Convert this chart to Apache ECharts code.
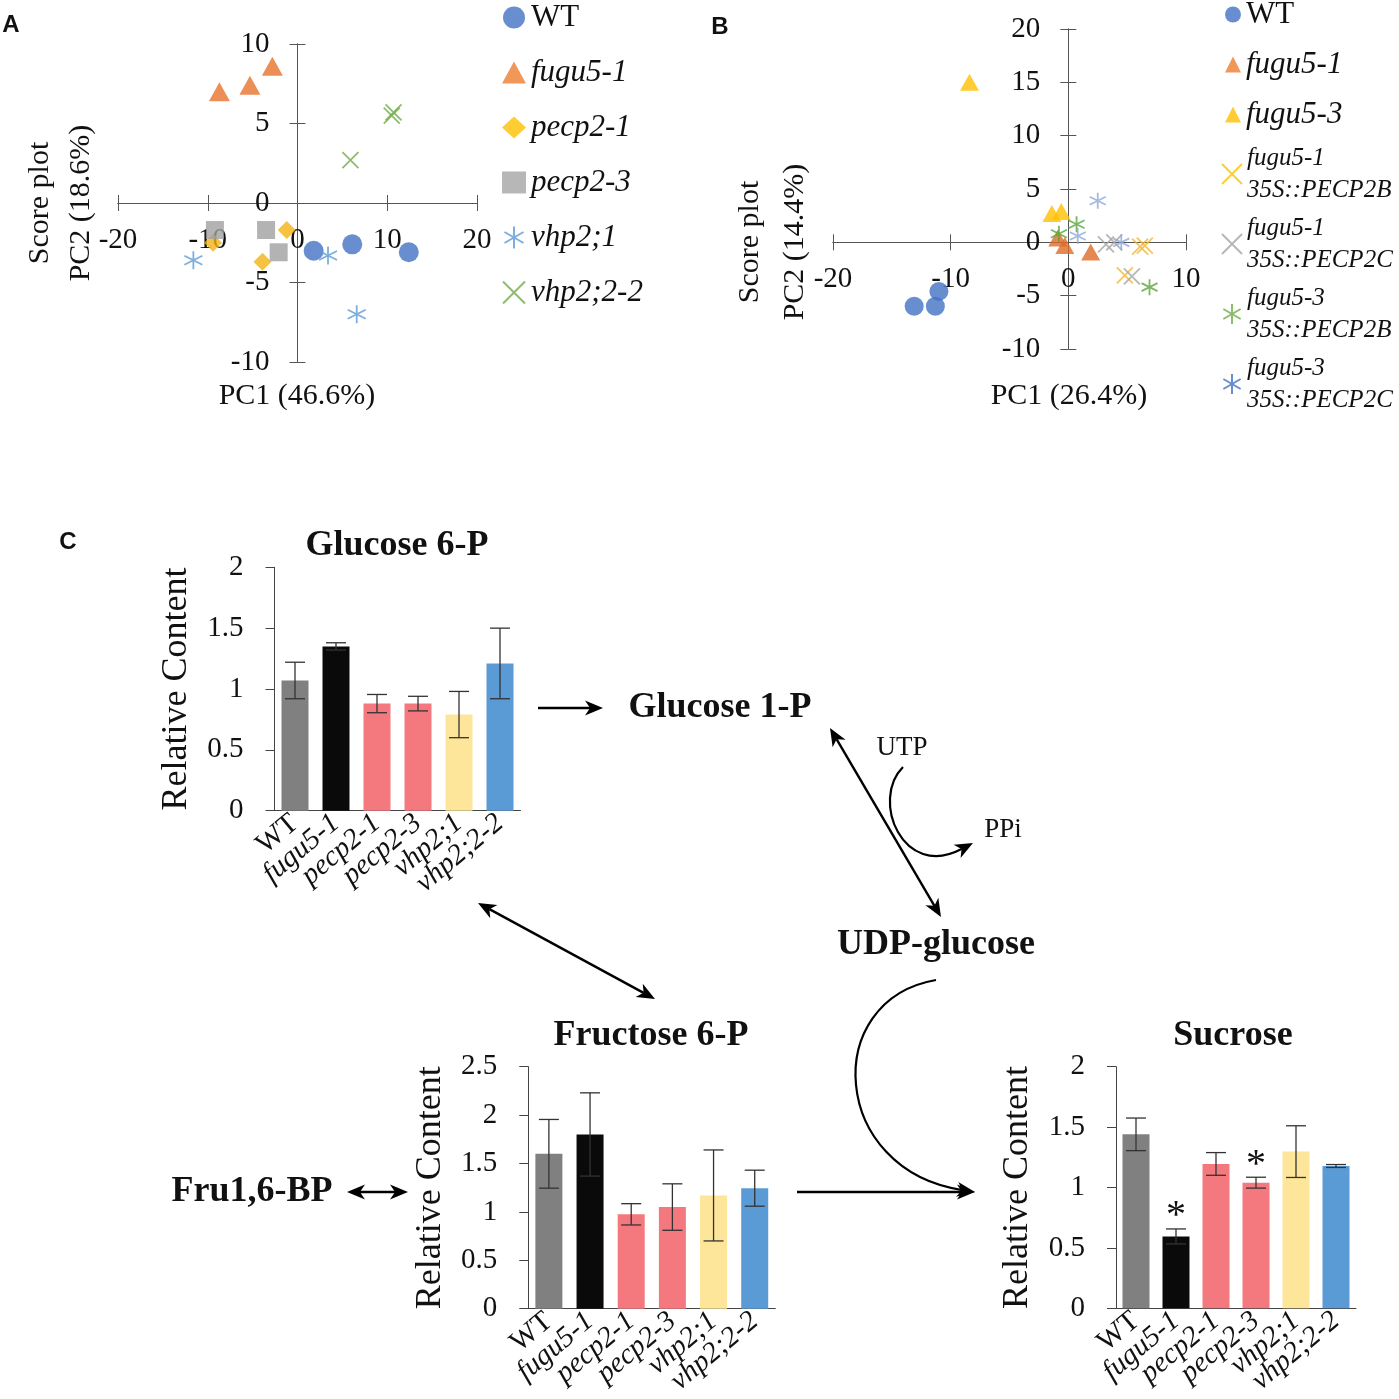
<!DOCTYPE html>
<html><head><meta charset="utf-8">
<script src="https://cdn.jsdelivr.net/npm/echarts@6/dist/echarts.min.js"></script>
<style>html,body{margin:0;padding:0;background:#fff}#c{width:1399px;height:1399px}</style>
</head><body><div id="c"></div>
<script>
// ---------- Panel A: PCA score plot ----------
const aWT     = [[1.8,-3.0],[6.1,-2.6],[12.4,-3.1]];
const aFugu51 = [[-8.7,7.0],[-5.3,7.4],[-2.8,8.6]];
const aPecp21 = [[-9.4,-2.5],[-1.2,-1.7],[-3.9,-3.7]];
const aPecp23 = [[-9.2,-1.7],[-3.5,-1.7],[-2.1,-3.1]];
const aVhp21  = [[-11.6,-3.6],[3.4,-3.3],[6.6,-7.0]];
const aVhp222 = [[10.5,5.5],[10.7,5.7],[5.9,2.7]];
// ---------- Panel B: PCA score plot ----------
const bWT     = [[-13.1,-6.0],[-11.3,-6.0],[-11.0,-4.6]];
const bFugu51 = [[-0.9,0.4],[-0.3,-0.3],[1.9,-0.9]];
const bFugu53 = [[-8.4,15.0],[-1.4,2.7],[-0.6,2.9]];
const bF1B    = [[6.1,-0.4],[6.5,-0.3],[4.8,-3.1]];
const bF1C    = [[3.2,-0.2],[3.9,0.0],[5.4,-3.2]];
const bF3B    = [[-0.8,0.8],[0.7,1.7],[6.9,-4.2]];
const bF3C    = [[2.5,3.9],[0.8,0.6],[4.5,0.0]];
// ---------- Panel C: bar charts ----------
const cats     = ['WT','fugu5-1','pecp2-1','pecp2-3','vhp2;1','vhp2;2-2'];
const g6pMean  = [1.07,1.35,0.88,0.88,0.79,1.21];
const g6pErr   = [0.15,0.03,0.075,0.06,0.19,0.29];
const f6pMean  = [1.60,1.80,0.975,1.05,1.17,1.245];
const f6pErr   = [0.355,0.43,0.11,0.24,0.47,0.186];
const sucMean  = [1.44,0.595,1.195,1.04,1.297,1.178];
const sucErr   = [0.135,0.062,0.094,0.045,0.214,0.012];
const sucSig   = ['','*','','*','',''];
const barColors = ['#808080','#0a0a0a','#f4797f','#f4797f','#fde699','#5b9bd5'];

const SERIF = '"Liberation Serif", "Times New Roman", serif';
const symX = 'path://M0,0L10,10M10,0L0,10';
const symAst = 'path://M5,0L5,10M0.67,2.5L9.33,7.5M0.67,7.5L9.33,2.5';
const AX = '#555';

const GRIDS = [
  {left:118, top:44, width:359, height:318, outerBoundsMode:'none'},
  {left:833, top:29, width:353, height:320, outerBoundsMode:'none'},
  {left:274.5, top:567.3, width:246, height:243.4, outerBoundsMode:'none'},
  {left:528.3, top:1066.7, width:247, height:242, outerBoundsMode:'none'},
  {left:1116, top:1066.7, width:240, height:241.6, outerBoundsMode:'none'}
];

function sc(name, data, ai, symbol, size, color, line) {
  return {type:'scatter', name, data, xAxisIndex:ai, yAxisIndex:ai, symbol, symbolSize:size, z:3,
    itemStyle: line ? {color:'transparent', borderColor:color, borderWidth:1.8} : {color:color}};
}
// axes crossing at the origin: the axis is shifted from the grid edge to the zero of the other axis
// (main axis carries the labels; a label-less twin on the opposite side gives ticks crossing both ways)
function valAxes(gi, min, max, interval, isX, oMin, oMax) {
  const g = GRIDS[gi];
  const span = isX ? g.height : g.width;
  const offNear = -(0 - oMin) / (oMax - oMin) * span;   // from bottom / left edge
  const offFar  = -(oMax - 0) / (oMax - oMin) * span;   // from top / right edge
  const base = {gridIndex:gi, type:'value', min, max, interval, splitLine:{show:false},
    axisLine:{onZero:false, lineStyle:{color:AX, width:1}},
    axisTick:{length:8, lineStyle:{color:AX}}};
  const main = Object.assign({}, base, {position: isX ? 'bottom' : 'left', offset: offNear,
    axisLabel:{margin: isX ? 23 : 28, fontSize:29, fontFamily:SERIF, color:'#111'}});
  const cross = Object.assign({}, base, {position: isX ? 'top' : 'right', offset: offFar,
    axisLabel:{show:false}});
  return [main, cross];
}
function catAxis(gi) {
  return {gridIndex:gi, type:'category', data:cats,
    axisLine:{lineStyle:{color:'#444', width:1}}, axisTick:{show:false},
    axisLabel:{interval:0, rotate:40, margin:9, fontSize:29, fontFamily:SERIF, color:'#111',
      formatter: v => v === 'WT' ? v : '{i|' + v + '}',
      rich:{i:{fontStyle:'italic', fontSize:29, fontFamily:SERIF, color:'#111'}}}};
}
function barYAxis(gi, max) {
  return {gridIndex:gi, type:'value', min:0, max, interval:0.5,
    axisLine:{show:true, lineStyle:{color:'#444', width:1}},
    axisTick:{show:true, length:9, lineStyle:{color:'#444'}},
    axisLabel:{margin:31, fontSize:29, fontFamily:SERIF, color:'#111'},
    splitLine:{show:false},
    name:'Relative Content', nameLocation:'middle', nameRotate:90, nameGap:80,
    nameTextStyle:{fontSize:36, fontFamily:SERIF, color:'#111'}};
}
function barSeries(ai, mean) {
  return {type:'bar', xAxisIndex:ai, yAxisIndex:ai, barWidth:27,
    data: mean.map((v,i)=>({value:v, itemStyle:{color:barColors[i]}}))};
}
function errSeries(ai, mean, err, sig) {
  return {type:'custom', xAxisIndex:ai, yAxisIndex:ai, z:5,
    encode:{x:0, y:[1,2]},
    data: mean.map((m,i)=>[i, m-err[i], m+err[i]]),
    renderItem(params, api) {
      const lo = api.coord([api.value(0), api.value(1)]);
      const hi = api.coord([api.value(0), api.value(2)]);
      const w = 10, st = {stroke:'#333', lineWidth:1.3};
      const ch = [
        {type:'line', shape:{x1:hi[0],y1:hi[1],x2:lo[0],y2:lo[1]}, style:st},
        {type:'line', shape:{x1:hi[0]-w,y1:hi[1],x2:hi[0]+w,y2:hi[1]}, style:st},
        {type:'line', shape:{x1:lo[0]-w,y1:lo[1],x2:lo[0]+w,y2:lo[1]}, style:st}];
      const s = sig ? sig[params.dataIndex] : '';
      if (s) ch.push({type:'text', x:hi[0], y:hi[1]-12,
        style:{text:s, align:'center', verticalAlign:'middle', font:'40px ' + SERIF, fill:'#111'}});
      return {type:'group', children:ch};
    }};
}

// ---------- diagram helpers ----------
const G = [];
function head(tx, ty, fx, fy) {
  const L = 18, W = 7.5;
  const a = Math.atan2(ty-fy, tx-fx), c = Math.cos(a), s = Math.sin(a);
  const bx = tx - L*c, by = ty - L*s, nx = tx - L*0.72*c, ny = ty - L*0.72*s;
  G.push({type:'polygon', shape:{points:[[tx,ty],[bx - W*s, by + W*c],[nx,ny],[bx + W*s, by - W*c]]}, style:{fill:'#000'}});
  return [nx, ny];
}
function arrow(x1, y1, x2, y2, both) {
  const e = head(x2, y2, x1, y1);
  const s = both ? head(x1, y1, x2, y2) : [x1, y1];
  G.push({type:'line', shape:{x1:s[0], y1:s[1], x2:e[0], y2:e[1]}, style:{stroke:'#000', lineWidth:2.4}});
}
function curve(p0, p1, p2, p3) {
  const e = head(p3[0], p3[1], p2[0], p2[1]);
  G.push({type:'bezierCurve', shape:{x1:p0[0], y1:p0[1], cpx1:p1[0], cpy1:p1[1], cpx2:p2[0], cpy2:p2[1], x2:e[0], y2:e[1]},
    style:{stroke:'#000', lineWidth:2.2, fill:null}});
}
function txt(t, x, y, font, rot, lh) {
  G.push({type:'text', x, y, rotation: rot || 0,
    style:{text:t, font, fill:'#111', align:'center', verticalAlign:'middle', lineHeight: lh || undefined}});
}
const BOLD = 'bold 36px ' + SERIF;
txt('A', 11, 25, 'bold 24px "Liberation Sans", Arial, sans-serif');
txt('B', 720, 27, 'bold 24px "Liberation Sans", Arial, sans-serif');
txt('C', 68, 542, 'bold 24px "Liberation Sans", Arial, sans-serif');
txt('PC1 (46.6%)', 297, 396, '30px ' + SERIF);
txt('Score plot\nPC2 (18.6%)', 61, 203, '30px ' + SERIF, Math.PI/2, 41);
txt('PC1 (26.4%)', 1069, 396, '30px ' + SERIF);
txt('Score plot\nPC2 (14.4%)', 773, 242, '30px ' + SERIF, Math.PI/2, 45);
txt('Glucose 6-P', 397, 546, BOLD);
txt('Fructose 6-P', 651, 1036, BOLD);
txt('Sucrose', 1233, 1036, BOLD);
txt('Glucose 1-P', 720, 708, BOLD);
txt('UDP-glucose', 936, 945, BOLD);
txt('Fru1,6-BP', 252, 1192, BOLD);
txt('UTP', 902, 748, '27px ' + SERIF);
txt('PPi', 1003, 830, '27px ' + SERIF);
arrow(538, 708, 603, 708, false);
arrow(830, 728, 941, 917, true);
curve([903,767], [870,800], [903,880], [973,843]);
arrow(478, 903, 655, 999, true);
curve([936,980], [820,1000], [830,1170], [975,1192]);
arrow(797, 1192, 975, 1192, false);
arrow(347, 1192, 408, 1192, true);

const legTxt = (fs, lh) => ({fontFamily:SERIF, fontSize:fs, lineHeight:lh, color:'#111',
  rich:{n:{fontFamily:SERIF, fontSize:fs, lineHeight:lh, color:'#111'},
        i:{fontFamily:SERIF, fontSize:fs, lineHeight:lh, fontStyle:'italic', color:'#111'}}});
const legFmt = name => name === 'WT' ? '{n|WT}' : name.split('\n').map(s => '{i|' + s + '}').join('\n');
const lineIcon = (sym, c) => ({icon:sym, itemStyle:{color:'transparent', borderColor:c, borderWidth:2}});

const xa = valAxes(0, -20, 20, 10, true, -10, 10), ya = valAxes(0, -10, 10, 5, false, -20, 20);
const xb = valAxes(1, -20, 10, 10, true, -10, 20), yb = valAxes(1, -10, 20, 5, false, -20, 10);

const option = {
  animation:false,
  backgroundColor:'#fff',
  grid: GRIDS,
  xAxis:[xa[0], xa[1], xb[0], xb[1], catAxis(2), catAxis(3), catAxis(4)],
  yAxis:[ya[0], ya[1], yb[0], yb[1], barYAxis(2, 2), barYAxis(3, 2.5), barYAxis(4, 2)],
  legend:[
    {left:497, top:-3, orient:'vertical', itemWidth:24, itemHeight:22, itemGap:24, selectedMode:false,
      textStyle:legTxt(31, 30), formatter:legFmt,
      data:[{name:'WT', icon:'circle', itemStyle:{color:'#4472c4'}},
            {name:'fugu5-1', icon:'triangle', itemStyle:{color:'#ed7d31'}},
            {name:'pecp2-1', icon:'diamond', itemStyle:{color:'#ffc000'}},
            {name:'pecp2-3', icon:'rect', itemStyle:{color:'#a5a5a5'}},
            Object.assign({name:'vhp2;1'}, lineIcon(symAst, '#5b9bd5')),
            Object.assign({name:'vhp2;2-2'}, lineIcon(symX, '#70ad47'))]},
    {left:1220, top:-6, orient:'vertical', itemWidth:16, itemHeight:16, itemGap:19, selectedMode:false,
      textStyle:legTxt(31, 30), formatter:legFmt,
      data:[{name:'WT', icon:'circle', itemStyle:{color:'#4472c4'}},
            {name:'fugu5-1', icon:'triangle', itemStyle:{color:'#ed7d31'}},
            {name:'fugu5-3', icon:'triangle', itemStyle:{color:'#ffc000'}}]},
    {left:1216, top:137, orient:'vertical', itemWidth:20, itemHeight:20, itemGap:6, selectedMode:false,
      textStyle:legTxt(25, 32), formatter:legFmt,
      data:[Object.assign({name:'fugu5-1\n35S::PECP2B'}, lineIcon(symX, '#ffc000')),
            Object.assign({name:'fugu5-1\n35S::PECP2C'}, lineIcon(symX, '#a5a5a5')),
            Object.assign({name:'fugu5-3\n35S::PECP2B'}, lineIcon(symAst, '#70ad47')),
            Object.assign({name:'fugu5-3\n35S::PECP2C'}, lineIcon(symAst, '#4472c4'))]}
  ],
  series:[
    sc('WT', aWT, 0, 'circle', 20, '#4472c4'),
    sc('fugu5-1', aFugu51, 0, 'triangle', [21,19], '#e8722c'),
    sc('pecp2-1', aPecp21, 0, 'diamond', 18, '#f2b411'),
    sc('pecp2-3', aPecp23, 0, 'rect', 18, '#a0a0a0'),
    sc('vhp2;1', aVhp21, 0, symAst, 18, '#5b9bd5', true),
    sc('vhp2;2-2', aVhp222, 0, symX, 16, '#70ad47', true),
    sc('WT', bWT, 2, 'circle', 19, '#4472c4'),
    sc('fugu5-1', bFugu51, 2, 'triangle', [19,17], '#dd6b26'),
    sc('fugu5-3', bFugu53, 2, 'triangle', [19,17], '#ffc000'),
    sc('fugu5-1\n35S::PECP2B', bF1B, 2, symX, 16, '#f2b632', true),
    sc('fugu5-1\n35S::PECP2C', bF1C, 2, symX, 16, '#a5a5a5', true),
    sc('fugu5-3\n35S::PECP2B', bF3B, 2, symAst, 16, '#5aa53a', true),
    sc('fugu5-3\n35S::PECP2C', bF3C, 2, symAst, 16, '#8ea9db', true),
    barSeries(4, g6pMean), errSeries(4, g6pMean, g6pErr),
    barSeries(5, f6pMean), errSeries(5, f6pMean, f6pErr),
    barSeries(6, sucMean), errSeries(6, sucMean, sucErr, sucSig)
  ],
  graphic: G
};
echarts.init(document.getElementById('c')).setOption(option);
</script></body></html>
